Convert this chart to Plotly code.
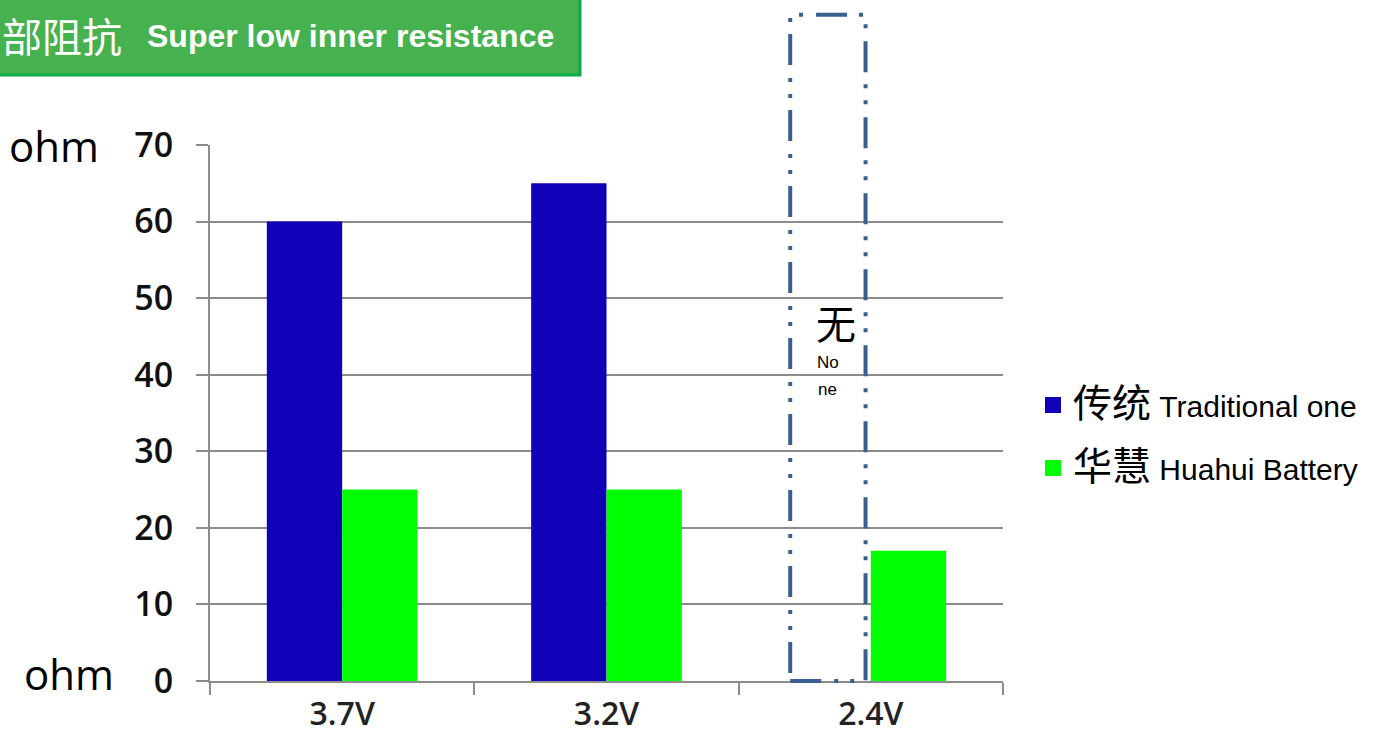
import plotly.graph_objects as go

# ---- data ----
categories = ["3.7V", "3.2V", "2.4V"]
traditional = [60, 65, None]
huahui = [25, 25, 17]
y_ticks = [0, 10, 20, 30, 40, 50, 60, 70]
series_cn = ["传统", "华慧"]
series_en = ["Traditional one", "Huahui Battery"]
title_cn = "部阻抗"
title_en = "Super low inner resistance"
none_box_top = 87  # height of the dashed "none" outline, in ohm units
none_label = ["无", "No", "ne"]

# ---- layout geometry ----
W, H = 1378, 741
L, R, T, B = 210, 375, 145, 60
plot_w = W - L - R
plot_h = H - T - B
ymax = 70
bargap = 0.43
barw = (1 - bargap) / 2


def px(x):
    return (x - L) / plot_w


def py(y):
    return (H - B - y) / plot_h


BLUE = "#1000b8"
GREEN = "#00ff00"
GRID = "#8c8c8c"
BOX = "#3a5f8f"
CJK = "Liberation Sans, Arial, Noto Sans CJK SC"
colors = [BLUE, GREEN]

fig = go.Figure()
for vals, c, g in zip([traditional, huahui], colors, ["a", "b"]):
    fig.add_trace(go.Bar(x=categories, y=vals, name=g,
                         marker=dict(color=c, line=dict(width=0)),
                         legendgroup=g, showlegend=False))
# legend entries (square swatches)
for cn, en, c, g in zip(series_cn, series_en, colors, ["a", "b"]):
    fig.add_trace(go.Scatter(
        x=[None], y=[None], mode="markers", legendgroup=g,
        name=f'<span style="font-size:39px">{cn}</span> {en}',
        marker=dict(symbol="square", size=16, color=c)))

shapes = []
# header banner
x0h, x1h, y0h, y1h, r = px(-20), px(580), py(-20), py(75), 14
rx = r / plot_w
ry = r / plot_h
path = (f"M {x0h},{y1h} L {x1h},{y1h} L {x1h},{y0h + ry} "
        f"Q {x1h},{y0h} {x1h - rx},{y0h} L {x0h},{y0h} Z")
shapes.append(dict(type="path", xref="paper", yref="paper", path=path,
                   fillcolor="#45b14f", line=dict(color="#0aad4c", width=3),
                   layer="above"))
# dashed outline for missing 2.4V traditional bar
shapes.append(dict(type="rect", xref="x", yref="paper",
                   x0=2 - barw - 0.02, x1=2 - 0.02,
                   y0=0, y1=none_box_top / ymax,
                   line=dict(color=BOX, width=4,
                             dash="31px,13px,4px,12px,4px,12px"),
                   fillcolor="rgba(0,0,0,0)", layer="above"))

annotations = [
    dict(xref="paper", yref="paper", x=px(124), y=py(35), xanchor="right",
         yanchor="middle", text=title_cn, showarrow=False,
         font=dict(family="Noto Sans CJK SC", size=40, color="white")),
    dict(xref="paper", yref="paper", x=px(145), y=py(36), xanchor="left",
         yanchor="middle", text=title_en, showarrow=False,
         font=dict(family="Liberation Sans, Arial", size=32, color="white",
                   weight="bold")),
    dict(xref="paper", yref="paper", x=px(7), y=py(145), xanchor="left",
         yanchor="middle", text="ohm", showarrow=False,
         font=dict(family="Open Sans", size=42, color="black")),
    dict(xref="paper", yref="paper", x=px(22), y=py(673), xanchor="left",
         yanchor="middle", text="ohm", showarrow=False,
         font=dict(family="Open Sans", size=42, color="black")),
]
xc = 2 - barw / 2 - 0.02
for txt, yv, sz, xs in zip(none_label, [46.5, 41.6, 38.1], [40, 17, 17],
                           [8, 0, 0]):
    annotations.append(dict(xref="x", yref="y", x=xc, y=yv, text=txt,
                            xshift=xs,
                            showarrow=False, xanchor="center", yanchor="middle",
                            font=dict(family="Liberation Sans, Noto Sans CJK SC",
                                      size=sz, color="black")))

fig.update_layout(
    width=W, height=H,
    margin=dict(l=L, r=R, t=T, b=B, pad=0, autoexpand=False),
    paper_bgcolor="white", plot_bgcolor="white",
    barmode="group", bargap=bargap, bargroupgap=0,
    shapes=shapes, annotations=annotations,
    showlegend=True,
    legend=dict(x=px(1033), y=py(379), xanchor="left", yanchor="top",
                font=dict(family=CJK, size=30, color="black"),
                tracegroupgap=21, bgcolor="rgba(0,0,0,0)"),
    xaxis=dict(type="category", range=[-0.5, 2.5], showgrid=False,
               automargin=False,
               showline=True, linecolor=GRID, linewidth=2,
               ticks="outside", tickson="boundaries", ticklen=12,
               tickcolor=GRID, tickwidth=2,
               ticklabelstandoff=4,
               tickfont=dict(family="Open Sans", size=32, color="#222",
                             weight=600)),
    yaxis=dict(range=[0, ymax], tickvals=y_ticks, showgrid=True,
               automargin=False,
               gridcolor=GRID, gridwidth=2, zeroline=False,
               showline=True, linecolor=GRID, linewidth=2,
               ticks="outside", ticklen=12, tickcolor=GRID, tickwidth=2,
               ticklabelstandoff=16,
               tickfont=dict(family="Open Sans", size=34, color="#111",
                             weight=600)),
)

fig.write_html("out.html", config={"displayModeBar": False},
               post_script="document.body.style.margin='0';")
